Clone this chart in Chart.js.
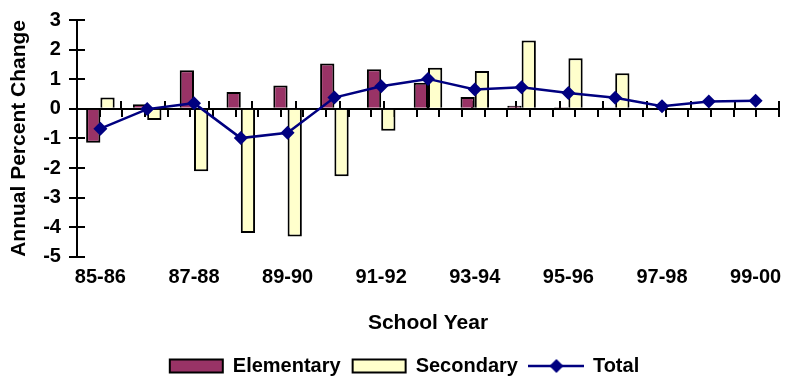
<!DOCTYPE html>
<html>
<head>
<meta charset="utf-8">
<script src="https://cdn.jsdelivr.net/npm/chart.js@4/dist/chart.umd.min.js"></script>
<style>
html,body{margin:0;padding:0;background:#fff;}
#wrap{width:786px;height:376px;position:relative;}
</style>
</head>
<body>
<div id="wrap"><canvas id="c" width="786" height="376"></canvas></div>
<script>
const categories = ['85-86','86-87','87-88','88-89','89-90','90-91','91-92','92-93','93-94','94-95','95-96','96-97','97-98','98-99','99-00'];
const elementary = [-1.15, 0.15, 1.30, 0.57, 0.79, 1.53, 1.34, 0.88, 0.40, 0.10, 0.05, 0.03, 0, 0, 0];
const secondary  = [0.38, -0.38, -2.11, -4.20, -4.31, -2.28, -0.74, 1.39, 1.28, 2.31, 1.71, 1.20, 0, 0, 0];
const total      = [-0.67, -0.01, 0.19, -0.99, -0.81, 0.38, 0.76, 1.01, 0.65, 0.73, 0.53, 0.37, 0.09, 0.25, 0.27];
const yTicks = [3, 2, 1, 0, -1, -2, -3, -4, -5];

const FONT = "'Liberation Sans', Arial, sans-serif";
const NAVY = '#000080';

// legend icon for the line series (line + diamond)
const icon = document.createElement('canvas');
icon.width = 56; icon.height = 16;
(function(){
  const g = icon.getContext('2d');
  g.strokeStyle = NAVY; g.lineWidth = 2.5;
  g.beginPath(); g.moveTo(0, 8); g.lineTo(56, 8); g.stroke();
  g.fillStyle = NAVY;
  g.beginPath(); g.moveTo(28, 1); g.lineTo(35, 8); g.lineTo(28, 15); g.lineTo(21, 8); g.closePath(); g.fill();
})();

const n = categories.length;
const betweenPos = [];
for (let i = 0; i <= n; i++) betweenPos.push(i - 0.5);
const allPos = betweenPos.concat(categories.map((c, i) => i)).sort((a, b) => a - b);

const fixLayout = {
  id: 'fixLayout',
  afterLayout(chart) {
    const ca = chart.chartArea;
    ['xDown', 'xUp'].forEach(id => {
      const s = chart.scales[id];
      s.left = ca.left; s.right = ca.right; s.width = ca.right - ca.left; s.configure();
    });
    const r = chart.scales.yRight;
    r.top = ca.top; r.bottom = ca.bottom; r.height = ca.bottom - ca.top; r.configure();
    if (chart.legend) { chart.legend.left += 11; chart.legend.right += 11; }
  }
};

new Chart(document.getElementById('c'), {
  type: 'bar',
  plugins: [fixLayout],
  data: {
    labels: categories,
    datasets: [
      { label: 'Elementary', data: elementary, backgroundColor: '#993366', borderColor: '#000', borderWidth: 2, order: 1,
        categoryPercentage: 0.61, barPercentage: 1.0 },
      { label: 'Secondary', data: secondary, backgroundColor: '#FFFFCC', borderColor: '#000', borderWidth: 2, order: 1,
        categoryPercentage: 0.61, barPercentage: 1.0 },
      { type: 'line', label: 'Total', data: total, borderColor: NAVY, backgroundColor: NAVY, borderWidth: 2.5,
        pointStyle: 'rectRot', pointRadius: 7, pointHoverRadius: 7, pointBorderWidth: 0, tension: 0, order: 0 }
    ]
  },
  options: {
    responsive: false,
    animation: false,
    devicePixelRatio: 1,
    layout: { padding: { left: 6, right: 5, top: 9, bottom: -10 } },
    plugins: {
      tooltip: { enabled: false },
      legend: {
        position: 'bottom',
        labels: {
          usePointStyle: true, pointStyleWidth: 53, boxHeight: 13, padding: 12, color: '#000',
          font: { family: FONT, size: 20, weight: 'bold' },
          generateLabels: chart => chart.data.datasets.map((ds, i) => ({
            text: ds.label, fillStyle: ds.backgroundColor, strokeStyle: i < 2 ? '#000' : NAVY,
            lineWidth: i < 2 ? 2 : 0, pointStyle: i < 2 ? 'rect' : icon, hidden: false, datasetIndex: i, fontColor: '#000'
          }))
        }
      }
    },
    scales: {
      x: {
        type: 'category', position: 'bottom', offset: true,
        grid: { display: false, drawTicks: false }, border: { display: false },
        afterFit: s => { s.paddingLeft = 0; s.paddingRight = 0; },
        ticks: { autoSkip: false, maxRotation: 0, padding: 9, color: '#000', font: { family: FONT, size: 20, weight: 'bold' },
          callback: (v, i) => (i % 2 === 0 ? categories[i] : '') },
        title: { display: true, text: 'School Year', color: '#000', padding: { top: 12, bottom: 8 }, font: { family: FONT, size: 21, weight: 'bold' } }
      },
      xDown: {
        axis: 'x', type: 'linear', position: { y: 0 }, min: -0.5, max: n - 0.5,
        afterBuildTicks: s => { s.ticks = allPos.map(v => ({ value: v })); },
        afterFit: s => { s.paddingLeft = 0; s.paddingRight = 0; },
        ticks: { display: false },
        grid: { drawOnChartArea: false, drawTicks: true, tickLength: 7, color: '#000', lineWidth: 2 },
        border: { display: true, color: '#000', width: 2 }
      },
      xUp: {
        axis: 'x', type: 'linear', position: { y: 0 }, min: -0.5, max: n - 0.5,
        afterBuildTicks: s => { s.ticks = betweenPos.map(v => ({ value: v })); },
        afterFit: s => { s.paddingLeft = 0; s.paddingRight = 0; },
        ticks: { display: false },
        grid: { drawOnChartArea: false, drawTicks: true, tickLength: -8, color: '#000', lineWidth: 2 },
        border: { display: false }
      },
      y: {
        min: -5, max: 3,
        afterBuildTicks: s => { s.ticks = yTicks.map(v => ({ value: v })); },
        grid: { drawOnChartArea: false, drawTicks: true, tickLength: 8, color: '#000', lineWidth: 2 },
        border: { display: true, color: '#000', width: 2 },
        ticks: { color: '#000', padding: 8, font: { family: FONT, size: 20, weight: 'bold' } },
        title: { display: true, text: 'Annual Percent Change', color: '#000', padding: { top: 1, bottom: 3 }, font: { family: FONT, size: 21, weight: 'bold' } }
      },
      yRight: {
        axis: 'y', type: 'linear', position: { x: -0.5 }, min: -5, max: 3,
        afterBuildTicks: s => { s.ticks = yTicks.map(v => ({ value: v })); },
        ticks: { display: false },
        grid: { drawOnChartArea: false, drawTicks: true, tickLength: -8, color: '#000', lineWidth: 2 },
        border: { display: false }
      }
    }
  }
});
</script>
</body>
</html>
